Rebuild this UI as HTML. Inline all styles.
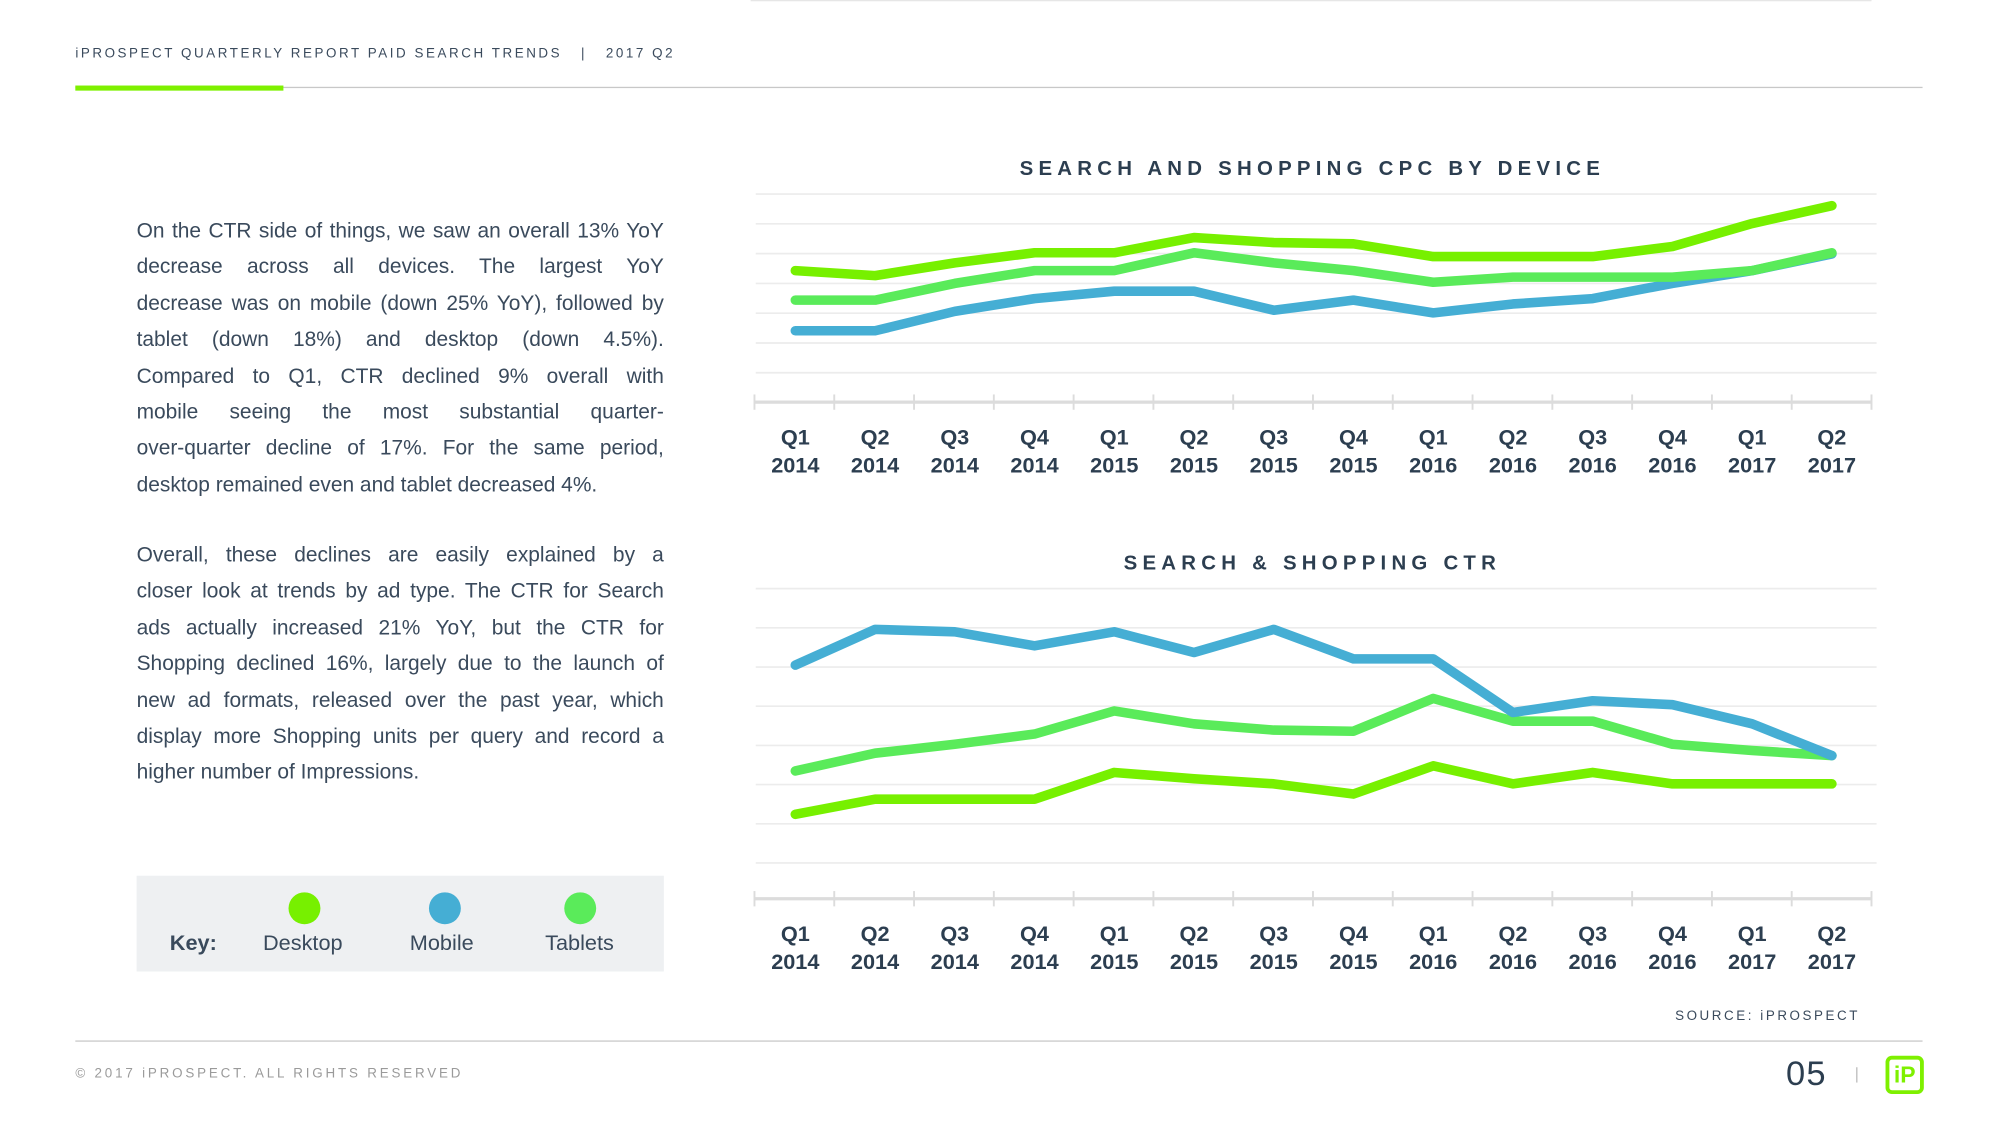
<!DOCTYPE html>
<html><head><meta charset="utf-8">
<style>
html,body{margin:0;padding:0;background:#fff;width:2000px;height:1126px;overflow:hidden}
#wrap{position:absolute;left:0;top:0;width:1567px;height:882px;transform:scale(1.2766);transform-origin:0 0;font-family:"Liberation Sans",sans-serif;color:#34465a}
.abs{position:absolute}
.para div{text-align:justify;text-align-last:justify;height:28.4px;line-height:28.4px;white-space:nowrap}
.para div.last{text-align-last:left}
.para{position:absolute;left:107px;width:413px;font-size:16.4px;color:#3a4a5c}
</style></head><body>
<div id="wrap">
<div class="abs" style="left:59px;top:36px;font-size:10.5px;letter-spacing:2.0px;color:#3a4a5c">iPROSPECT QUARTERLY REPORT PAID SEARCH TRENDS &nbsp;&nbsp;|&nbsp;&nbsp; 2017 Q2</div>
<div class="abs" style="left:59px;top:68px;width:1447px;height:1px;background:#c8c8c8"></div>
<div class="abs" style="left:59px;top:67px;width:163px;height:4px;background:#7ef000"></div>
<div class="abs" style="left:588px;top:0;width:878px;height:1px;background:#e6e6e6"></div>

<div class="para" style="top:167px">
<div>On the CTR side of things, we saw an overall 13% YoY</div>
<div>decrease across all devices. The largest YoY</div>
<div>decrease was on mobile (down 25% YoY), followed by</div>
<div>tablet (down 18%) and desktop (down 4.5%).</div>
<div>Compared to Q1, CTR declined 9% overall with</div>
<div>mobile seeing the most substantial quarter-</div>
<div>over-quarter decline of 17%. For the same period,</div>
<div class="last">desktop remained even and tablet decreased 4%.</div>
</div>
<div class="para" style="top:421px">
<div>Overall, these declines are easily explained by a</div>
<div>closer look at trends by ad type. The CTR for Search</div>
<div>ads actually increased 21% YoY, but the CTR for</div>
<div>Shopping declined 16%, largely due to the launch of</div>
<div>new ad formats, released over the past year, which</div>
<div>display more Shopping units per query and record a</div>
<div class="last">higher number of Impressions.</div>
</div>

<div class="abs" style="left:107px;top:686px;width:413px;height:75px;background:#eef0f2;font-size:17px;color:#3a4a5c">
<div class="abs" style="left:26px;top:43px;font-weight:bold">Key:</div>
<div class="abs" style="left:119px;top:13px;width:25px;height:25px;border-radius:50%;background:#77f000"></div>
<div class="abs" style="left:99px;top:43px">Desktop</div>
<div class="abs" style="left:229px;top:13px;width:25px;height:25px;border-radius:50%;background:#45aed4"></div>
<div class="abs" style="left:214px;top:43px">Mobile</div>
<div class="abs" style="left:335px;top:13px;width:25px;height:25px;border-radius:50%;background:#5aeb5a"></div>
<div class="abs" style="left:320px;top:43px">Tablets</div>
</div>

<svg class="abs" id="charts" style="left:0;top:0" width="1567" height="882" viewBox="0 0 1567 882"></svg>

<div class="abs" style="left:1300px;width:157px;text-align:right;top:790px;font-size:10.5px;letter-spacing:2px;color:#3a4a5c">SOURCE: iPROSPECT</div>
<div class="abs" style="left:59px;top:815px;width:1447px;height:1px;background:#c8c8c8"></div>
<div class="abs" style="left:59px;top:835px;font-size:10.5px;letter-spacing:2.2px;color:#9a9a9a">© 2017 iPROSPECT. ALL RIGHTS RESERVED</div>
<div class="abs" style="left:1399px;top:826px;font-size:27px;letter-spacing:1px;color:#2c3e50">05</div>
<div class="abs" style="left:1454px;top:836px;width:1px;height:12px;background:#bbb"></div>
<div class="abs" style="left:1477px;top:827px;width:24px;height:24px;border:3px solid #7ef000;border-radius:5px;color:#7ef000;font-weight:bold;font-size:18px;line-height:24px;text-align:center">iP</div>
</div>
<script>
const categories=["Q1|2014","Q2|2014","Q3|2014","Q4|2014","Q1|2015","Q2|2015","Q3|2015","Q4|2015","Q1|2016","Q2|2016","Q3|2016","Q4|2016","Q1|2017","Q2|2017"];
// CPC values in gridline units (0..6)
const cpcDesktop=[3.43,3.26,3.69,4.03,4.03,4.54,4.37,4.33,3.90,3.90,3.90,4.24,5.01,5.61];
const cpcTablets=[2.44,2.44,3.00,3.43,3.43,4.03,3.69,3.43,3.04,3.21,3.21,3.21,3.43,4.03];
const cpcMobile=[1.41,1.41,2.06,2.49,2.74,2.74,2.10,2.44,2.01,2.31,2.49,3.00,3.43,3.99];
// CTR values in gridline units (0..7)
const ctrMobile=[5.05,5.96,5.90,5.54,5.90,5.37,5.96,5.21,5.21,3.84,4.14,4.04,3.55,2.74];
const ctrTablets=[2.35,2.80,3.03,3.29,3.88,3.55,3.39,3.36,4.20,3.62,3.62,3.03,2.87,2.74];
const ctrDesktop=[1.24,1.63,1.63,1.63,2.31,2.15,2.02,1.76,2.48,2.02,2.31,2.02,2.02,2.02];

const svg=document.getElementById('charts');
const NS='http://www.w3.org/2000/svg';
function mk(t,a){const e=document.createElementNS(NS,t);for(const k in a)e.setAttribute(k,a[k]);svg.appendChild(e);return e;}
function xScale(i){return 623+i*62.46;}
function drawChart(cfg){
  const y=v=>cfg.base-v*cfg.step;
  const t=mk('text',{x:1028,y:cfg.titleY,'text-anchor':'middle','font-size':16,'font-weight':'bold','letter-spacing':4.1,fill:'#2c3e50','font-family':'Liberation Sans, sans-serif'});
  t.textContent=cfg.title;
  
  
  for(let g=0;g<=cfg.grids;g++){
    const l=mk('line',{x1:592,x2:1470,y1:y(g),y2:y(g),stroke:'#ececec','stroke-width':1.3});
    
    
  }
  const ax=mk('line',{x1:591,x2:1466,y1:cfg.axisY,y2:cfg.axisY,stroke:'#dcdcdc','stroke-width':2.5});
  
  
  for(let k=0;k<=14;k++){
    const tx=591+k*(875/14);
    const tk=mk('line',{x1:tx,x2:tx,y1:cfg.axisY-6,y2:cfg.axisY+6,stroke:'#dcdcdc','stroke-width':1.5});
    
    
  }
  categories.forEach((c,i)=>{
    const p=c.split('|');
    const a=mk('text',{x:xScale(i),y:cfg.axisY+33,'text-anchor':'middle','font-size':17,'font-weight':'bold',fill:'#2c3e50','font-family':'Liberation Sans, sans-serif'});
    a.textContent=p[0];
    
    
    const b=mk('text',{x:xScale(i),y:cfg.axisY+55,'text-anchor':'middle','font-size':17,'font-weight':'bold',fill:'#2c3e50','font-family':'Liberation Sans, sans-serif'});
    b.textContent=p[1];
    
    
  });
  cfg.series.forEach(s=>{
    const pts=s.data.map((v,i)=>xScale(i).toFixed(1)+','+y(v).toFixed(1)).join(' ');
    const pl=mk('polyline',{points:pts,fill:'none',stroke:s.color,'stroke-width':7.5,'stroke-linejoin':'round','stroke-linecap':'round'});
    
    
  });
}
drawChart({id:'cpc-chart',title:'SEARCH AND SHOPPING CPC BY DEVICE',titleY:137,base:292,step:23.33,grids:6,axisY:315,
  series:[{name:'mobile',color:'#45aed4',data:cpcMobile},{name:'tablets',color:'#5aeb5a',data:cpcTablets},{name:'desktop',color:'#77f000',data:cpcDesktop}]});
drawChart({id:'ctr-chart',title:'SEARCH & SHOPPING CTR',titleY:446,base:676,step:30.7,grids:7,axisY:704,
  series:[{name:'desktop',color:'#77f000',data:ctrDesktop},{name:'tablets',color:'#5aeb5a',data:ctrTablets},{name:'mobile',color:'#45aed4',data:ctrMobile}]});
</script>
</body></html>
